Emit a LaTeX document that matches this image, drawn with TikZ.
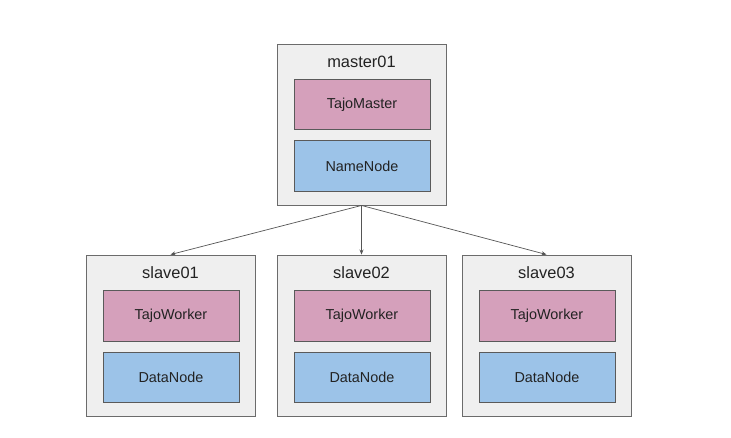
\documentclass[tikz,border=0pt]{standalone}
\usepackage{fontspec}
\setmainfont{Liberation Sans}
\usetikzlibrary{arrows.meta}
\definecolor{outerfill}{HTML}{EFEFEF}
\definecolor{outerline}{HTML}{6B6B6B}
\definecolor{pinkfill}{HTML}{D5A0BB}
\definecolor{bluefill}{HTML}{9CC3E8}
\definecolor{innerline}{HTML}{5A5A5A}
\definecolor{txt}{HTML}{222222}
\definecolor{arrowc}{HTML}{555555}
\tikzset{
  hostbox/.style={draw=outerline, fill=outerfill, line width=0.9pt, minimum width=169pt, minimum height=161pt, inner sep=0pt},
  procbox/.style={draw=innerline, line width=0.9pt, minimum width=136pt, minimum height=50.5pt, inner sep=0pt, text=txt, font=\fontsize{14.4}{17}\selectfont},
  pinkbox/.style={procbox, fill=pinkfill},
  bluebox/.style={procbox, fill=bluefill},
  hostlabel/.style={text=txt, inner sep=0pt, font=\fontsize{16.4}{19}\selectfont},
  conn/.style={draw=arrowc, line width=0.7pt, -{Stealth[length=5pt,width=4pt]}}
}
\begin{document}
\begin{tikzpicture}[x=1pt,y=-1pt]
\useasboundingbox[fill=white] (0,0) rectangle (731,437);
% master
\node[hostbox] (master) at (361.5,124.5) {};
\node[hostlabel] (masterlbl) at (361.5,62) {master01};
\node[pinkbox] (tajomaster) at (362,104.5) {TajoMaster};
\node[bluebox] (namenode) at (362,166) {NameNode};
% slaves
\foreach \i/\cx in {1/170.5, 2/361.5, 3/546.5} {
  \node[hostbox] (slave\i) at (\cx,335.5) {};
  \node[hostlabel] (slavelbl\i) at (\cx,273) {slave0\i};
  \node[pinkbox] (worker\i) at (\cx+0.5,316) {TajoWorker};
  \node[bluebox] (datanode\i) at (\cx+0.5,377.5) {DataNode};
}
\draw[conn] (master.south) -- (slave1.north);
\draw[conn] (master.south) -- (slave2.north);
\draw[conn] (master.south) -- (slave3.north);
\end{tikzpicture}
\end{document}
